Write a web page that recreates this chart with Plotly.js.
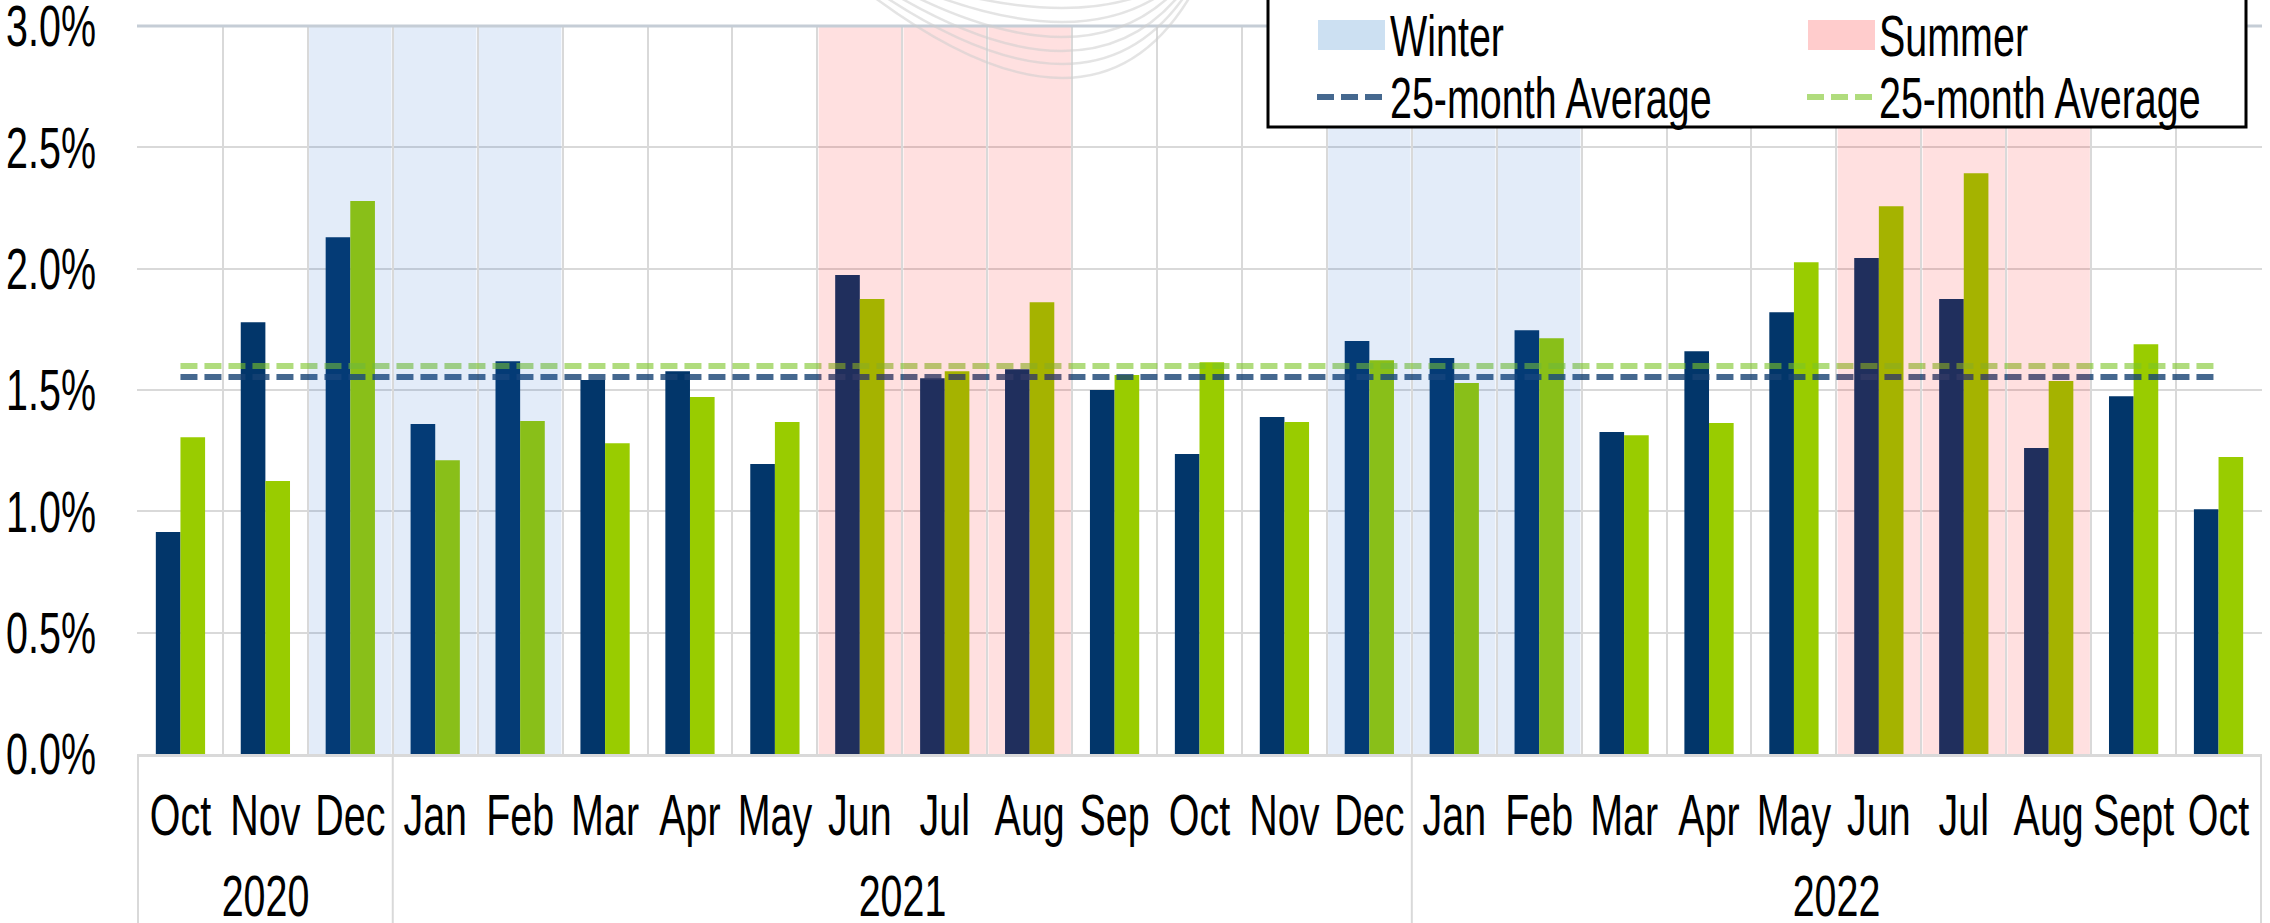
<!DOCTYPE html>
<html>
<head>
<meta charset="utf-8">
<script src="https://cdn.plot.ly/plotly-3.0.1.min.js"></script>
<style>
  html, body { margin: 0; padding: 0; background: #ffffff; }
  #chart { width: 2270px; height: 923px; }
</style>
</head>
<body>
<div id="chart"></div>
<script>
// ---------- data ----------
const years  = ['2020','2020','2020',
                '2021','2021','2021','2021','2021','2021','2021','2021','2021','2021','2021','2021',
                '2022','2022','2022','2022','2022','2022','2022','2022','2022','2022'];
const months = ['Oct','Nov','Dec',
                'Jan','Feb','Mar','Apr','May','Jun','Jul','Aug','Sep','Oct','Nov','Dec',
                'Jan','Feb','Mar','Apr','May','Jun','Jul','Aug','Sept','Oct'];
const seriesBlue  = [0.915, 1.780, 2.130,
                     1.360, 1.619, 1.541, 1.578, 1.195, 1.974, 1.549, 1.586, 1.500, 1.236, 1.389, 1.702,
                     1.632, 1.747, 1.327, 1.660, 1.821, 2.044, 1.875, 1.261, 1.475, 1.009];
const seriesGreen = [1.306, 1.125, 2.279,
                     1.211, 1.372, 1.281, 1.471, 1.368, 1.875, 1.578, 1.862, 1.562, 1.615, 1.368, 1.623,
                     1.529, 1.714, 1.314, 1.364, 2.027, 2.258, 2.394, 1.537, 1.689, 1.224];
const avgBlue  = 1.554;
const avgGreen = 1.599;
const seasons = ['', '', 'Winter',
                 'Winter','Winter','','','','Summer','Summer','Summer','','','','Winter',
                 'Winter','Winter','','','','Summer','Summer','Summer','',''];
const legendLabels = ['Winter', 'Summer', '25-month Average', '25-month Average'];
const yTickSuffix = '%';

// ---------- geometry helpers (pixel -> paper) ----------
const L = 137, R = 2262, T = 26, B = 754, H = 923;
const px = p => (p - L) / (R - L);
const py = p => (B - p) / (B - T);

const FONT = 'Liberation Sans, Arial, sans-serif';
const FS = 58;
const NARROW = 0.68;   // emulate a condensed (Arial Narrow-like) face
const BLUE = '#02366A', GREEN = '#99CC00';
const WINTER_FILL = 'rgba(25,100,204,0.12)';
const SUMMER_FILL = 'rgba(255,0,0,0.12)';
const BLUE_LINE = 'rgba(23,66,115,0.8)';
const GREEN_LINE = 'rgba(123,197,38,0.6)';
const DASH = '17px,7px';
const GRID = '#D9D9D9';

// unique category keys, month text shown as tick labels
const cats = months.map((m, i) => years[i] + ' ' + m);

const traces = [
  { type: 'bar', x: cats, y: seriesBlue, name: 'Series 1', marker: { color: BLUE } },
  { type: 'bar', x: cats, y: seriesGreen, name: 'Series 2', marker: { color: GREEN } },
  { type: 'scatter', mode: 'lines', x: cats, y: cats.map(() => avgBlue), name: '25-month Average',
    line: { color: BLUE_LINE, width: 6, dash: DASH } },
  { type: 'scatter', mode: 'lines', x: cats, y: cats.map(() => avgGreen), name: '25-month Average',
    line: { color: GREEN_LINE, width: 6, dash: DASH } }
];

const shapes = [];
// seasonal shading (one rect per month, drawn over bars)
seasons.forEach((s, i) => {
  if (!s) return;
  shapes.push({ type: 'rect', xref: 'x', yref: 'y', x0: i - 0.5 + 0.015, x1: i + 0.5 - 0.015, y0: 0, y1: 3,
    fillcolor: s === 'Winter' ? WINTER_FILL : SUMMER_FILL, line: { width: 0 }, layer: 'above' });
});
// top border line
shapes.push({ type: 'line', xref: 'paper', yref: 'paper', x0: 0, x1: 1, y0: 1, y1: 1,
  line: { color: '#C5CDD6', width: 3 }, layer: 'above' });

// year groups: dividers below the axis and centred year labels
const annotations = [];
const groups = [];
years.forEach((yr, i) => {
  if (!groups.length || groups[groups.length - 1].year !== yr) groups.push({ year: yr, start: i, end: i });
  else groups[groups.length - 1].end = i;
});
const dividerPos = [groups[0].start - 0.5].concat(groups.map(g => g.end + 0.5));
dividerPos.forEach(d => {
  shapes.push({ type: 'line', xref: 'x', yref: 'paper', x0: d, x1: d, y0: 0, y1: py(H + 5),
    line: { color: GRID, width: 2 }, layer: 'above' });
});
groups.forEach(g => {
  annotations.push({ xref: 'x', yref: 'paper', x: (g.start + g.end) / 2, y: py(895),
    xanchor: 'center', yanchor: 'middle', showarrow: false, text: g.year,
    font: { family: FONT, size: FS, color: '#000000' } });
});

// faint watermark arcs at top centre
const arcs = [[935, 1160, 8], [915, 1170, 22], [898, 1178, 37], [884, 1185, 51], [872, 1190, 64], [862, 1195, 78]];
arcs.forEach(a => {
  const x0 = a[0], x2 = a[1], yb = a[2], y0 = -12;
  const xb = 1062;
  const x1 = 2 * xb - (x0 + x2) / 2;
  const y1 = 2 * yb - y0;
  shapes.push({ type: 'path', xref: 'paper', yref: 'paper',
    path: `M ${px(x0)} ${py(y0)} Q ${px(x1)} ${py(y1)} ${px(x2)} ${py(y0)}`,
    line: { color: 'rgba(205,205,205,0.55)', width: 2.5 }, layer: 'above' });
});

// legend box
shapes.push({ type: 'rect', xref: 'paper', yref: 'paper', x0: px(1268), x1: px(2246), y0: py(-40), y1: py(127),
  fillcolor: '#ffffff', line: { color: '#000000', width: 3 }, layer: 'above' });
// legend swatches
shapes.push({ type: 'rect', xref: 'paper', yref: 'paper', x0: px(1318), x1: px(1385), y0: py(50), y1: py(20),
  fillcolor: '#CCE0F2', line: { width: 0 }, layer: 'above' });
shapes.push({ type: 'rect', xref: 'paper', yref: 'paper', x0: px(1808), x1: px(1875), y0: py(50), y1: py(20),
  fillcolor: '#FFCCCC', line: { width: 0 }, layer: 'above' });
shapes.push({ type: 'line', xref: 'paper', yref: 'paper', x0: px(1317), x1: px(1382), y0: py(97), y1: py(97),
  line: { color: BLUE_LINE, width: 6, dash: DASH }, layer: 'above' });
shapes.push({ type: 'line', xref: 'paper', yref: 'paper', x0: px(1807), x1: px(1872), y0: py(97), y1: py(97),
  line: { color: GREEN_LINE, width: 6, dash: DASH }, layer: 'above' });

const legendPos = [[1388, 36], [1877, 36], [1388, 98], [1877, 98]];
legendLabels.forEach((t, i) => {
  annotations.push({ xref: 'paper', yref: 'paper', x: px(legendPos[i][0]), y: py(legendPos[i][1]),
    xanchor: 'left', yanchor: 'middle', align: 'left', showarrow: false, text: t,
    font: { family: FONT, size: FS, color: '#000000' } });
});

const layout = {
  width: 2270, height: 923,
  margin: { l: L, r: 2270 - R, t: T, b: H - B, pad: 0 },
  paper_bgcolor: '#ffffff', plot_bgcolor: '#ffffff',
  showlegend: false,
  barmode: 'group', bargap: 0.42, bargroupgap: 0,
  font: { family: FONT, size: FS, color: '#000000' },
  xaxis: {
    type: 'category', tickmode: 'array', tickvals: cats, ticktext: months,
    tickson: 'boundaries', tickangle: 0,
    showgrid: true, gridcolor: GRID, gridwidth: 2,
    showline: true, linecolor: GRID, linewidth: 3,
    ticks: '', ticklabelstandoff: 8, ticklabeloverflow: 'allow',
    tickfont: { family: FONT, size: FS, color: '#000000' },
    automargin: false, fixedrange: true
  },
  yaxis: {
    range: [0, 3.0005], tick0: 0, dtick: 0.5, tickformat: '.1f', ticksuffix: yTickSuffix,
    showgrid: true, gridcolor: GRID, gridwidth: 2, zeroline: false, showline: false,
    ticks: '', ticklabelstandoff: 40, ticklabeloverflow: 'allow',
    tickfont: { family: FONT, size: FS, color: '#000000' },
    automargin: false, fixedrange: true
  },
  shapes: shapes,
  annotations: annotations
};

Plotly.newPlot('chart', traces, layout, { displayModeBar: false, staticPlot: true }).then(gd => {
  // squeeze glyphs horizontally to emulate a narrow typeface
  gd.querySelectorAll('svg text').forEach(t => {
    const w = t.getComputedTextLength();
    if (w > 0) {
      t.setAttribute('textLength', (w * NARROW).toFixed(2));
      t.setAttribute('lengthAdjust', 'spacingAndGlyphs');
    }
  });
});
</script>
</body>
</html>
